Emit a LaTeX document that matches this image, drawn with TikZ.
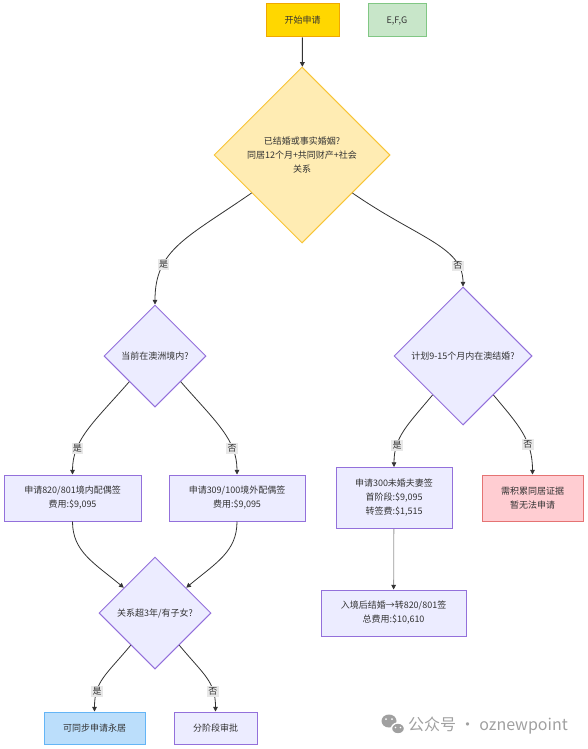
\documentclass[tikz,border=0pt]{standalone}
\usepackage{fontspec}
\setmainfont{Noto Sans CJK SC}
\usetikzlibrary{shapes.geometric,arrows.meta}

\definecolor{txt}{HTML}{333333}
\definecolor{lav}{HTML}{ECECFF}
\definecolor{lavline}{HTML}{9370DB}
\definecolor{gold}{HTML}{FFD700}
\definecolor{goldline}{HTML}{F0A800}
\definecolor{cream}{HTML}{FFECB3}
\definecolor{creamline}{HTML}{F8C537}
\definecolor{mint}{HTML}{C8E6C9}
\definecolor{mintline}{HTML}{81C784}
\definecolor{sky}{HTML}{BBDEFB}
\definecolor{skyline}{HTML}{64B5F6}
\definecolor{rose}{HTML}{FFCDD2}
\definecolor{roseline}{HTML}{E57373}
\definecolor{lblbg}{HTML}{E8E8E8}
\definecolor{wm}{HTML}{A0A0A0}

\begin{document}
\begin{tikzpicture}[x=0.75pt, y=-0.75pt,
        every node/.style={font=\fontsize{6.75}{10.5}\selectfont, text=txt, align=center},
        box/.style={rectangle, draw=lavline, fill=lav, line width=0.75pt, inner sep=1pt},
        choice/.style={diamond, aspect=1, draw=lavline, fill=lav, line width=0.75pt, inner sep=0pt},
        link/.style={draw=txt, line width=0.6pt, -{Triangle[length=3.5pt,width=3.5pt]}},
        lbl/.style={fill=lblbg, inner sep=1pt}]
        \useasboundingbox (0,0) rectangle (587,749);

        % top row
        \node[box, fill=gold, draw=goldline, minimum width=54.75pt, minimum height=24.75pt] (start) at (302.5,20.5) {开始申请};
        \node[box, fill=mint, draw=mintline, minimum width=43.5pt, minimum height=24.75pt] (efg) at (397,20.5) {E,F,G};

        % questions
        \node[choice, fill=cream, draw=creamline, minimum size=132pt] (married) at (302,155) {已结婚或事实婚姻?\\同居12个月+共同财产+社会\\关系};
        \node[choice, minimum size=76.5pt] (inside) at (155,356) {当前在澳洲境内?};
        \node[choice, minimum size=103.5pt] (plan) at (463,356) {计划9-15个月内在澳结婚?};
        \node[choice, minimum size=84pt] (long) at (155,613) {关系超3年/有子女?};

        % results
        \node[box, minimum width=102.75pt, minimum height=34.5pt] (onshore) at (72.5,498) {申请820/801境内配偶签\\费用:\$9,095};
        \node[box, minimum width=102pt, minimum height=34.5pt] (offshore) at (237,498) {申请309/100境外配偶签\\费用:\$9,095};
        \node[box, minimum width=87pt, minimum height=45.75pt] (fiance) at (394,498) {申请300未婚夫妻签\\首阶段:\$9,095\\转签费:\$1,515};
        \node[box, fill=rose, draw=roseline, minimum width=75.75pt, minimum height=34.5pt] (wait) at (532.5,498) {需积累同居证据\\暂无法申请};
        \node[box, minimum width=108.75pt, minimum height=34.5pt] (convert) at (393.5,613) {入境后结婚→转820/801签\\总费用:\$10,610};
        \node[box, fill=sky, draw=skyline, minimum width=75.75pt, minimum height=24pt] (pr) at (94.5,728) {可同步申请永居};
        \node[box, minimum width=62.25pt, minimum height=24pt] (stages) at (215.5,728) {分阶段审批};

        % links
        \draw[link, line width=0.8pt] (start) -- (married);
        \draw[link] (married.217) .. controls +(-65,45) and +(0,-55) .. node[lbl, pos=0.7] {是} (inside.north);
        \draw[link] (married.323) .. controls +(65,45) and +(0,-40) .. node[lbl, pos=0.8] {否} (plan.north);
        \draw[link] (inside.south west) .. controls +(-35,40) and +(0,-35) .. node[lbl, pos=0.72] {是} (onshore.north);
        \draw[link] (inside.south east) .. controls +(35,40) and +(0,-35) .. node[lbl, pos=0.72] {否} (offshore.north);
        \draw[link] (plan.232) .. controls +(-25,30) and +(0,-30) .. node[lbl, pos=0.72] {是} (fiance.north);
        \draw[link] (plan.308) .. controls +(25,30) and +(0,-35) .. node[lbl, pos=0.66] {否} (wait.north);
        \draw[link, draw=black!40, -{Triangle[length=3.5pt,width=3.5pt,color=txt]}] (fiance) -- (convert);
        \draw[link] (onshore.south) .. controls +(0,30) and +(-30,-25) .. (long.141);
        \draw[link] (offshore.south) .. controls +(0,30) and +(30,-25) .. (long.39);
        \draw[link] (long.233) .. controls +(-25,30) and +(0,-30) .. node[lbl, pos=0.73] {是} (pr.north);
        \draw[link] (long.307) .. controls +(25,30) and +(0,-30) .. node[lbl, pos=0.73] {否} (stages.north);

        % watermark
        \fill[wm] (389,721) ellipse (7.5 and 6.5);
        \draw[white, line width=1pt, fill=wm] (398,728.5) ellipse (6.5 and 5.5);
        \fill[white] (386,719) circle (1) (392,719) circle (1);
        \fill[white] (395.5,727.5) circle (0.8) (400.5,727.5) circle (0.8);
        \node[font=\fontsize{12}{14}\selectfont, text=wm] (mark) at (488,726) {公众号 · oznewpoint};
    \end{tikzpicture}
\end{document}
